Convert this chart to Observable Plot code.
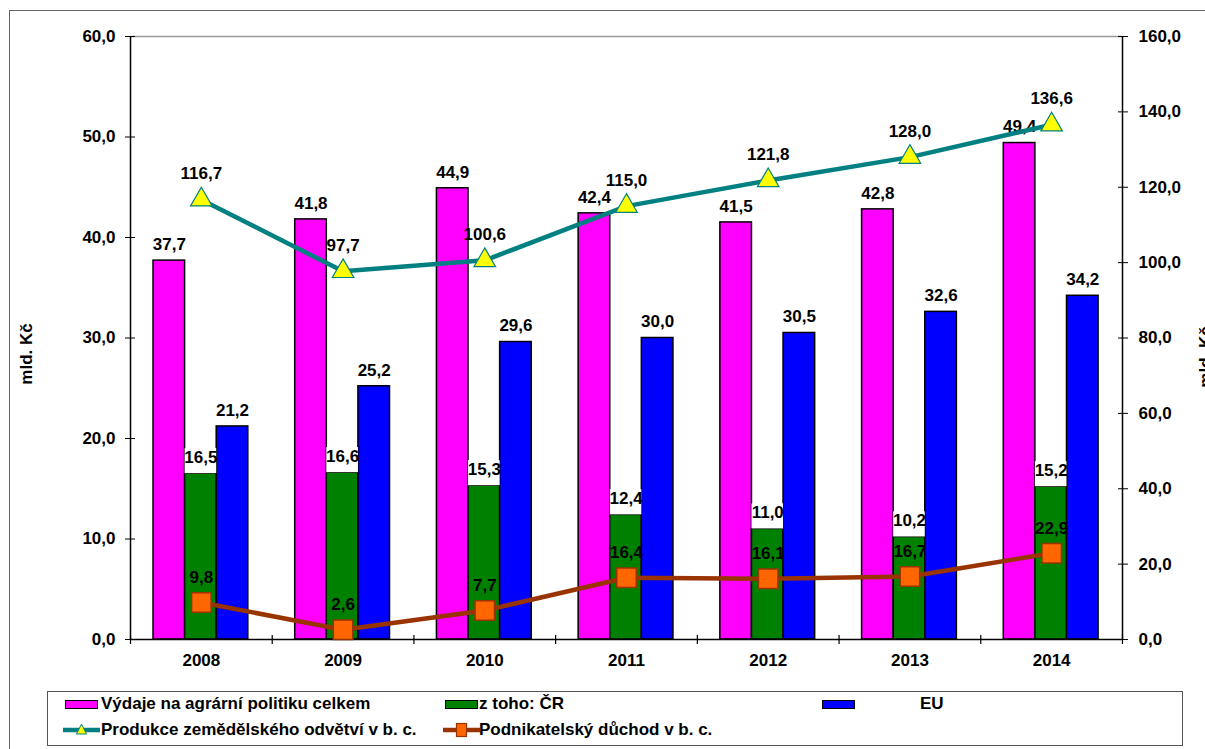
<!DOCTYPE html>
<html>
<head>
<meta charset="utf-8">
<script src="https://cdn.jsdelivr.net/npm/d3@7"></script>
<script src="https://cdn.jsdelivr.net/npm/@observablehq/plot@0.6"></script>
<style>
  body { margin: 0; background: white; font-family: "Liberation Sans", Arial, sans-serif; }
  #wrap { position: relative; width: 1205px; height: 749px; overflow: hidden; }
  #frame { position: absolute; left: 9px; top: 10px; width: 1400px; height: 900px;
           border-top: 1.5px solid #666; border-left: 1.5px solid #666; }
  #chart { position: absolute; left: 0; top: 0; }
  #legend { position: absolute; left: 47px; top: 691px; width: 1136px; height: 55px;
            border: 1.5px solid #555; box-sizing: border-box; background: white; }
  .lg { position: absolute; font-size: 17px; font-weight: bold; color: black; white-space: nowrap; line-height: 20px; }
  .sw { position: absolute; width: 33px; height: 9px; border: 1.5px solid black; box-sizing: border-box; }
  .ls { position: absolute; }
</style>
</head>
<body>
<div id="wrap">
  <div id="frame"></div>
  <div id="chart"></div>
  <div id="legend"></div>
</div>
<script>
const years = ["2008", "2009", "2010", "2011", "2012", "2013", "2014"];
const vydaje = [37.7, 41.8, 44.9, 42.4, 41.5, 42.8, 49.4];
const cr = [16.5, 16.6, 15.3, 12.4, 11.0, 10.2, 15.2];
const eu = [21.2, 25.2, 29.6, 30.0, 30.5, 32.6, 34.2];
const produkce = [116.7, 97.7, 100.6, 115.0, 121.8, 128.0, 136.6];
const duchod = [9.8, 2.6, 7.7, 16.4, 16.1, 16.7, 22.9];
const leftTicks = [0, 10, 20, 30, 40, 50, 60];
const rightTicks = [0, 20, 40, 60, 80, 100, 120, 140, 160];

const seriesNames = {
  vydaje: "Výdaje na agrární politiku celkem",
  cr: "z toho: ČR",
  eu: "EU",
  produkce: "Produkce zemědělského odvětví v b. c.",
  duchod: "Podnikatelský důchod v b. c."
};
const colors = { vydaje: "#FF00FF", cr: "#008000", eu: "#0000FF", produkce: "#008080", duchod: "#993300" };

const RATIO = 60 / 160;
const fmt = v => v.toFixed(1).replace(".", ",");

const rows = years.map((year, i) => ({
  year, vydaje: vydaje[i], cr: cr[i], eu: eu[i], produkce: produkce[i], duchod: duchod[i]
}));

const W = 1205, H = 680, ML = 130, MR = 83, MT = 36, MB = 41;
const bw = (W - ML - MR) / years.length;
const barW = 31.6, gStart = 23;
const inset = k => ({ insetLeft: gStart + k * barW, insetRight: bw - gStart - (k + 1) * barW });
const cdx = k => gStart + (k + 0.5) * barW - bw / 2;

const barMark = (key, k) => Plot.barY(rows, {
  x: "year", y: key, fill: colors[key], stroke: "black", strokeWidth: 1.5, ...inset(k)
});
const barLabel = (key, k) => Plot.text(rows, {
  x: "year", y: key, text: d => fmt(d[key]), dx: cdx(k), dy: -16
});

const chart = Plot.plot({
  width: W, height: H,
  marginTop: MT, marginBottom: MB, marginLeft: ML, marginRight: MR,
  x: { type: "band", domain: years, padding: 0, round: false, label: null },
  y: { domain: [0, 60], label: null },
  style: { fontFamily: "'Liberation Sans', Arial, sans-serif", fontSize: "17px", fontWeight: "bold", color: "black", background: "transparent", overflow: "hidden" },
  marks: [
    Plot.ruleY([60], { stroke: "#999", strokeWidth: 1.5 }),
    barMark("vydaje", 0),
    barMark("cr", 1),
    barMark("eu", 2),
    Plot.rect(rows, { x: "year", y1: "cr", y2: d => d.cr + 2.5, fill: "white", ...inset(1) }),
    barLabel("vydaje", 0),
    barLabel("cr", 1),
    barLabel("eu", 2),
    Plot.ruleY([0], { stroke: "black", strokeWidth: 1.5 }),
    Plot.ruleX([years[0]], { dx: -bw / 2, y1: 0, y2: 60, stroke: "black", strokeWidth: 1.5 }),
    Plot.ruleX([years[years.length - 1]], { dx: bw / 2, y1: 0, y2: 60, stroke: "black", strokeWidth: 1.5 }),
    Plot.ruleX(years, { dx: -bw / 2, y1: -0.5, y2: 0.4, stroke: "black", strokeWidth: 1.2 }),
    Plot.ruleX([years[years.length - 1]], { dx: bw / 2, y1: -0.5, y2: 0.4, stroke: "black", strokeWidth: 1.2 }),
    Plot.axisY({ ticks: leftTicks, tickFormat: fmt, tickSize: 10, dx: 5, tickPadding: 10, label: null }),
    Plot.axisY({ anchor: "right", ticks: rightTicks.map(v => v * RATIO), tickFormat: d => fmt(d / RATIO), tickSize: 10, dx: -5, tickPadding: 11, label: null }),
    Plot.axisX({ tickSize: 0, tickPadding: 14, label: null }),
    Plot.text(["mld. Kč"], { frameAnchor: "left", textAnchor: "middle", rotate: -90, dx: -104, dy: 16 }),
    Plot.text(["mld. Kč"], { frameAnchor: "right", textAnchor: "middle", rotate: -90, dx: 83, dy: 19 }),
    Plot.line(rows, { x: "year", y: d => d.produkce * RATIO, stroke: colors.produkce, strokeWidth: 4.5 }),
    Plot.line(rows, { x: "year", y: d => d.duchod * RATIO, stroke: colors.duchod, strokeWidth: 4.5 }),
    Plot.dot(rows, { x: "year", y: d => d.produkce * RATIO, symbol: "triangle", r: 8, fill: "#FFFF00", stroke: "#008080", strokeWidth: 1.2 }),
    Plot.dot(rows, { x: "year", y: d => d.duchod * RATIO, symbol: "square", r: 11, fill: "#FF6600", stroke: "#993300", strokeWidth: 1.5 }),
    Plot.text(rows, { x: "year", y: d => d.produkce * RATIO, text: d => fmt(d.produkce), dy: -26 }),
    Plot.text(rows, { x: "year", y: d => d.duchod * RATIO, text: d => fmt(d.duchod), dy: -25 })
  ]
});
document.getElementById("chart").appendChild(chart);

// Legend
const legend = document.getElementById("legend");
const L0 = 47, T0 = 691;
function addBarItem(key, swX, txtX, cy) {
  const s = document.createElement("div");
  s.className = "sw";
  s.style.left = (swX - L0) + "px"; s.style.top = (cy - 4.5 - T0) + "px";
  s.style.background = colors[key];
  legend.appendChild(s);
  const t = document.createElement("div");
  t.className = "lg"; t.textContent = seriesNames[key];
  t.style.left = (txtX - L0) + "px"; t.style.top = (cy - 10 - T0) + "px";
  legend.appendChild(t);
}
function addLineItem(key, swX, txtX, cy, marker) {
  const ns = "http://www.w3.org/2000/svg";
  const svg = document.createElementNS(ns, "svg");
  svg.setAttribute("width", 37); svg.setAttribute("height", 20);
  svg.setAttribute("class", "ls");
  svg.style.left = (swX - L0) + "px"; svg.style.top = (cy - 10 - T0) + "px";
  const ln = document.createElementNS(ns, "line");
  ln.setAttribute("x1", 0); ln.setAttribute("x2", 37); ln.setAttribute("y1", 10); ln.setAttribute("y2", 10);
  ln.setAttribute("stroke", colors[key]); ln.setAttribute("stroke-width", 4.5);
  svg.appendChild(ln);
  if (marker === "triangle") {
    const p = document.createElementNS(ns, "path");
    p.setAttribute("d", "M18.5,4 L23.5,14 L13.5,14 Z");
    p.setAttribute("fill", "#FFFF00"); p.setAttribute("stroke", "#008080"); p.setAttribute("stroke-width", 1);
    svg.appendChild(p);
  } else {
    const r = document.createElementNS(ns, "rect");
    r.setAttribute("x", 13.5); r.setAttribute("y", 3.5); r.setAttribute("width", 10); r.setAttribute("height", 13);
    r.setAttribute("fill", "#FF6600"); r.setAttribute("stroke", "#993300"); r.setAttribute("stroke-width", 1.2);
    svg.appendChild(r);
  }
  legend.appendChild(svg);
  const t = document.createElement("div");
  t.className = "lg"; t.textContent = seriesNames[key];
  t.style.left = (txtX - L0) + "px"; t.style.top = (cy - 10 - T0) + "px";
  legend.appendChild(t);
}
addBarItem("vydaje", 64, 100, 703);
addBarItem("cr", 444, 478, 703);
addBarItem("eu", 821, 919, 703);
addLineItem("produkce", 62, 100, 729, "triangle");
addLineItem("duchod", 442, 478, 729, "square");
</script>
</body>
</html>
